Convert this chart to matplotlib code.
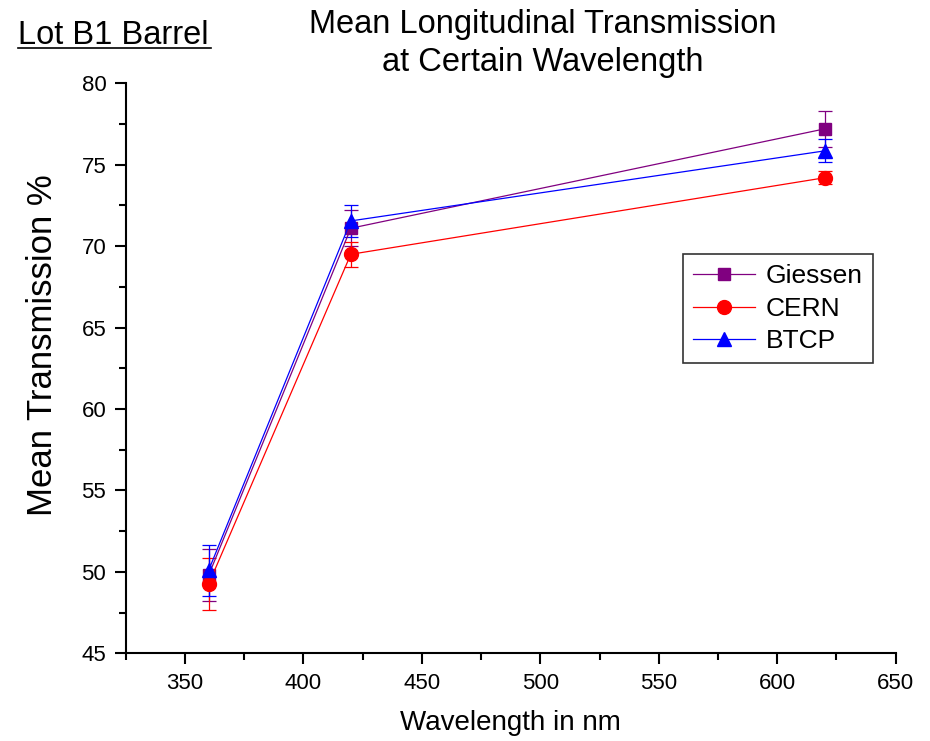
import matplotlib.pyplot as plt
from matplotlib.lines import Line2D
from matplotlib.ticker import MultipleLocator

plt.rcParams["font.family"] = ["Liberation Sans", "DejaVu Sans"]

# wavelengths (nm) and mean transmission per lab
wavelength = [360, 420, 620]

giessen = [49.8, 71.1, 77.2]
giessen_err = [1.6, 1.1, 1.1]

cern = [49.25, 69.5, 74.2]
cern_err = [1.6, 0.75, 0.4]

btcp = [50.1, 71.55, 75.85]
btcp_err = [1.55, 1.0, 0.7]

series = [
    ("Giessen", giessen, giessen_err, "#800080", "s", 9),
    ("CERN", cern, cern_err, "#ff0000", "o", 10),
    ("BTCP", btcp, btcp_err, "#0000ff", "^", 10.5),
]

fig = plt.figure(figsize=(9.3, 7.41), dpi=100)
ax = fig.add_axes([0.1352, 0.1183, 0.8279, 0.7693])

handles = []
for label, vals, errs, color, marker, ms in series:
    ax.errorbar(wavelength, vals, yerr=errs, color=color, marker=marker,
                markersize=ms, linewidth=0.9, elinewidth=0.9, capsize=5,
                capthick=0.9)
    # legend entry: plain line with marker, no error bar
    handles.append(Line2D([], [], color=color, marker=marker, markersize=ms,
                          linewidth=0.9, label=label))

ax.set_xlim(325, 650)
ax.set_ylim(45, 80)
ax.xaxis.set_major_locator(MultipleLocator(50))
ax.xaxis.set_minor_locator(MultipleLocator(25))
ax.yaxis.set_major_locator(MultipleLocator(5))
ax.yaxis.set_minor_locator(MultipleLocator(2.5))

for side in ("top", "right"):
    ax.spines[side].set_visible(False)
for side in ("left", "bottom"):
    ax.spines[side].set_linewidth(1.5)

ax.tick_params(which="major", direction="out", length=8, width=1.5,
               labelsize=16, pad=6)
ax.tick_params(which="minor", direction="out", length=5, width=1.5)

ax.set_xlabel("Wavelength in nm", fontsize=20, labelpad=12)
ax.set_ylabel("Mean Transmission %", fontsize=25, labelpad=16)
ax.yaxis.label.set_y(0.54)

fig.text(0.584, 0.988, "Mean Longitudinal Transmission\nat Certain Wavelength",
         ha="center", va="top", fontsize=23.5, linespacing=1.3)
fig.text(0.019, 0.941, "Lot B1 Barrel", ha="left", va="baseline",
         fontsize=23.5)
fig.add_artist(Line2D([0.019, 0.227], [0.935, 0.935],
                      transform=fig.transFigure, color="black",
                      linewidth=1.2))

leg = ax.legend(handles=handles, loc="upper left",
                bbox_to_anchor=(0.724, 0.70), fontsize=19, frameon=True,
                fancybox=False, shadow=False, handlelength=2.35,
                handletextpad=0.4, labelspacing=0.32, borderpad=0.38,
                borderaxespad=0)
leg.get_frame().set_edgecolor("black")
leg.get_frame().set_linewidth(1.2)

fig.savefig("out.png", dpi=100)
